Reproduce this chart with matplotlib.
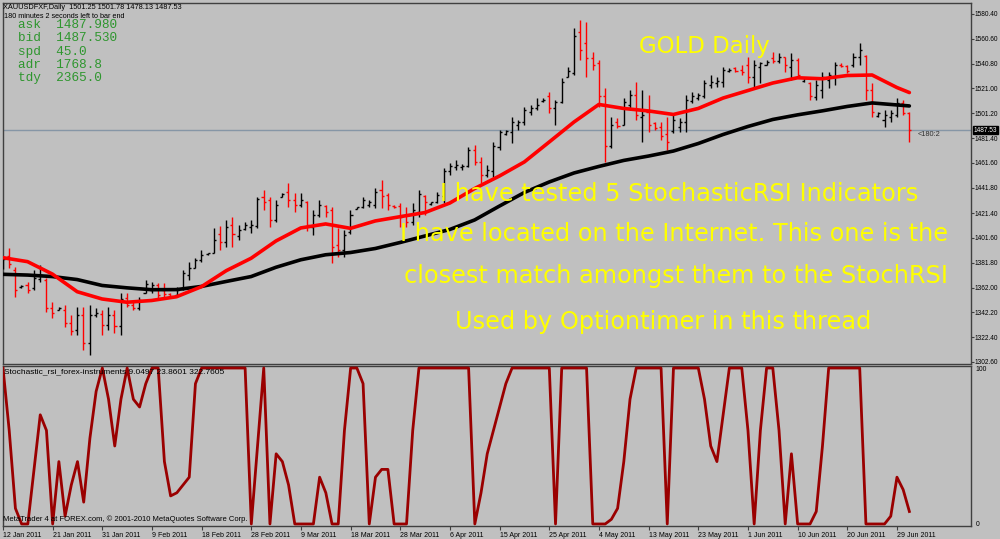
import matplotlib
matplotlib.use('Agg')
import matplotlib.pyplot as plt
import numpy as np
import pandas as pd
from matplotlib.collections import LineCollection

# ---------------- data ----------------
symbol_header = "XAUUSDFXF,Daily  1501.25 1501.78 1478.13 1487.53"
timer_text = "180 minutes 2 seconds left to bar end"
info_labels = ["ask", "bid", "spd", "adr", "tdy"]
info_values = ["1487.980", "1487.530", "45.0", "1768.8", "2365.0"]

start_date = "2011-01-12"
end_date = "2011-07-01"

opens = [1380.0, 1387.0, 1376.0, 1362.5, 1364.0, 1362.0, 1369.0, 1368.0, 1346.0, 1344.5,
         1344.0, 1334.0, 1328.0, 1340.0, 1318.0, 1340.0, 1341.0, 1332.0, 1340.0, 1331.0,
         1354.0, 1348.0, 1346.0, 1358.0, 1360.0, 1364.0, 1360.0, 1357.0, 1356.0, 1361.0,
         1372.0, 1378.0, 1384.0, 1389.0, 1390.0, 1405.0, 1398.0, 1412.0, 1403.0, 1409.0,
         1410.0, 1411.0, 1434.0, 1432.0, 1416.0, 1434.5, 1438.0, 1432.0, 1428.0, 1430.0,
         1410.0, 1420.0, 1427.0, 1424.0, 1396.0, 1392.0, 1406.0, 1425.0, 1426.0, 1428.0,
         1428.0, 1440.0, 1436.0, 1427.0, 1427.0, 1420.0, 1414.0, 1422.0, 1435.0, 1429.0,
         1430.0, 1435.0, 1455.0, 1458.0, 1458.0, 1459.0, 1472.0, 1462.0, 1452.0, 1455.0,
         1474.0, 1485.0, 1486.0, 1492.0, 1494.0, 1502.0, 1505.0, 1510.8, 1515.0, 1505.0,
         1510.0, 1530.0, 1533.0, 1566.0, 1557.0, 1545.0, 1541.0, 1515.0, 1475.0, 1494.0,
         1492.0, 1508.0, 1516.0, 1498.0, 1502.0, 1493.0, 1490.0, 1485.0, 1487.0, 1490.0,
         1494.0, 1511.0, 1513.0, 1515.0, 1524.0, 1525.0, 1526.0, 1535.0, 1537.0, 1536.0,
         1540.0, 1530.0, 1538.0, 1540.0, 1545.0, 1543.0, 1546.0, 1538.0, 1544.0, 1527.0,
         1525.0, 1514.0, 1520.0, 1528.0, 1530.0, 1540.0, 1539.0, 1540.0, 1546.0, 1547.0,
         1520.0, 1499.0, 1496.0, 1498.0, 1500.0, 1509.0, 1501.25]
highs = [1386.4, 1393.6, 1378.4, 1364.0, 1366.5, 1376.0, 1380.0, 1369.7, 1350.5, 1346.5,
         1348.0, 1340.0, 1346.5, 1346.5, 1348.0, 1345.7, 1344.0, 1346.5, 1344.0, 1358.0,
         1358.0, 1350.5, 1354.5, 1368.0, 1366.5, 1365.7, 1365.7, 1357.7, 1362.5, 1376.0,
         1382.4, 1385.6, 1392.0, 1390.0, 1409.6, 1411.0, 1416.0, 1418.4, 1412.0, 1414.4,
         1416.0, 1434.3, 1440.0, 1434.3, 1432.0, 1437.5, 1445.5, 1437.5, 1437.5, 1431.0,
         1423.9, 1432.0, 1428.0, 1426.4, 1409.6, 1408.0, 1423.9, 1426.4, 1434.6, 1431.9,
         1441.5, 1447.9, 1437.5, 1428.0, 1429.5, 1426.4, 1429.5, 1440.0, 1436.0, 1430.5,
         1438.6, 1457.5, 1461.4, 1463.8, 1460.6, 1474.5, 1475.8, 1466.5, 1459.8, 1478.5,
         1487.8, 1487.8, 1498.4, 1495.8, 1506.4, 1507.8, 1513.0, 1513.0, 1518.0, 1512.0,
         1529.3, 1538.0, 1569.2, 1575.6, 1574.3, 1550.3, 1543.7, 1521.1, 1498.4, 1497.1,
         1513.1, 1519.7, 1526.4, 1519.7, 1515.7, 1494.4, 1494.4, 1498.4, 1501.1, 1497.1,
         1515.7, 1518.4, 1517.1, 1527.7, 1531.7, 1530.4, 1538.3, 1537.1, 1538.3, 1539.7,
         1546.3, 1543.7, 1542.3, 1543.7, 1550.3, 1549.0, 1546.3, 1549.0, 1545.0, 1530.4,
         1526.4, 1527.7, 1534.4, 1534.4, 1542.3, 1541.0, 1539.7, 1549.0, 1557.0, 1547.7,
         1525.1, 1502.4, 1503.8, 1503.8, 1513.1, 1511.7, 1501.78]
lows = [1376.8, 1377.6, 1354.5, 1362.0, 1357.7, 1360.0, 1366.5, 1342.5, 1337.7, 1344.0,
        1330.5, 1324.0, 1324.0, 1312.0, 1308.0, 1338.5, 1324.0, 1328.0, 1325.5, 1324.0,
        1346.5, 1344.0, 1344.0, 1357.7, 1357.3, 1352.0, 1354.5, 1354.5, 1354.5, 1360.0,
        1368.0, 1377.6, 1382.4, 1388.4, 1389.5, 1392.0, 1394.4, 1394.4, 1400.0, 1408.0,
        1405.6, 1409.6, 1424.0, 1410.4, 1414.4, 1434.3, 1426.4, 1422.4, 1426.4, 1407.0,
        1404.0, 1418.4, 1418.4, 1381.6, 1386.4, 1386.4, 1405.0, 1424.8, 1425.3, 1426.6,
        1425.5, 1425.5, 1423.9, 1425.5, 1410.4, 1410.4, 1412.0, 1418.4, 1420.0, 1428.0,
        1429.3, 1429.5, 1451.9, 1455.9, 1455.9, 1458.5, 1459.8, 1445.3, 1450.5, 1450.5,
        1471.8, 1483.8, 1477.2, 1487.8, 1491.8, 1499.8, 1503.8, 1510.5, 1501.5, 1492.0,
        1509.4, 1530.0, 1531.7, 1543.7, 1530.3, 1535.7, 1506.4, 1462.5, 1473.2, 1489.1,
        1491.8, 1503.8, 1495.8, 1478.5, 1486.4, 1487.8, 1479.8, 1471.8, 1485.2, 1486.4,
        1486.4, 1509.1, 1511.7, 1513.1, 1521.1, 1522.4, 1522.4, 1534.4, 1534.4, 1531.7,
        1525.1, 1521.1, 1525.1, 1539.7, 1541.0, 1541.0, 1534.4, 1527.7, 1530.4, 1526.4,
        1511.7, 1511.7, 1513.1, 1521.1, 1523.7, 1538.3, 1533.1, 1538.3, 1539.7, 1511.7,
        1498.4, 1498.4, 1490.4, 1494.4, 1498.4, 1499.8, 1478.13]
closes = [1385.0, 1380.5, 1360.0, 1363.5, 1360.0, 1370.0, 1372.0, 1346.0, 1342.0, 1345.5,
          1334.0, 1327.0, 1340.0, 1318.0, 1340.0, 1342.0, 1332.0, 1340.0, 1331.0, 1353.0,
          1348.0, 1346.0, 1352.0, 1365.0, 1364.0, 1356.0, 1357.0, 1355.5, 1360.0, 1374.0,
          1378.0, 1384.0, 1388.0, 1389.5, 1400.0, 1398.0, 1410.0, 1405.0, 1408.0, 1412.0,
          1412.0, 1433.0, 1430.0, 1416.0, 1428.0, 1437.0, 1432.0, 1428.0, 1432.0, 1412.0,
          1420.0, 1428.0, 1422.0, 1394.0, 1392.0, 1404.0, 1420.0, 1426.0, 1432.0, 1430.0,
          1438.0, 1435.0, 1428.0, 1426.0, 1418.0, 1414.0, 1424.0, 1437.0, 1430.0, 1430.0,
          1436.0, 1455.0, 1459.0, 1460.0, 1459.0, 1472.0, 1462.0, 1452.0, 1456.0, 1475.0,
          1486.0, 1487.0, 1494.0, 1494.0, 1504.0, 1505.0, 1508.0, 1512.0, 1505.0, 1510.0,
          1526.0, 1535.0, 1563.0, 1552.0, 1545.0, 1540.0, 1515.0, 1475.0, 1492.0, 1491.0,
          1510.0, 1516.0, 1500.0, 1500.0, 1492.0, 1489.0, 1483.0, 1478.0, 1496.0, 1494.0,
          1512.0, 1515.0, 1515.5, 1525.0, 1526.0, 1527.0, 1536.0, 1536.0, 1535.0, 1534.0,
          1530.0, 1540.0, 1541.0, 1542.0, 1543.0, 1546.0, 1540.0, 1544.0, 1532.0, 1529.0,
          1515.0, 1524.0, 1530.0, 1532.0, 1540.0, 1539.0, 1535.0, 1546.0, 1552.0, 1520.0,
          1502.0, 1501.0, 1500.0, 1501.0, 1509.0, 1501.2, 1487.53]

# moving averages read every 4th bar (plus last bar)
ma_bar_index = [0, 4, 8, 12, 16, 20, 24, 28, 32, 36, 40, 44, 48, 52, 56, 60, 64, 68, 72,
                76, 80, 84, 88, 92, 96, 100, 104, 108, 112, 116, 120, 124, 128, 132, 136,
                140, 144, 146]
ma_red = [1385.9, 1382.7, 1372.8, 1358.7, 1352.9, 1350.3, 1351.7, 1354.7, 1362.7, 1375.5,
          1385.4, 1399.2, 1409.6, 1412.8, 1409.3, 1415.2, 1418.6, 1421.9, 1429.5, 1441.1,
          1451.1, 1462.3, 1478.2, 1494.2, 1508.2, 1505.0, 1503.0, 1500.2, 1505.0, 1513.3,
          1519.3, 1525.3, 1529.5, 1528.7, 1531.3, 1531.7, 1521.7, 1517.7]
ma_black = [1372.6, 1372.0, 1370.8, 1368.4, 1363.7, 1361.8, 1360.3, 1360.4, 1362.9, 1366.9,
            1370.8, 1378.2, 1384.2, 1388.2, 1390.0, 1393.2, 1398.0, 1403.2, 1408.4, 1416.0,
            1427.1, 1437.9, 1446.3, 1453.5, 1458.7, 1463.5, 1467.0, 1471.0, 1477.0, 1484.2,
            1490.6, 1496.2, 1499.9, 1503.1, 1506.6, 1509.4, 1507.8, 1507.0]

stoch_rsi = [100, 60, 10, 0, 0, 35, 70, 60, 0, 40,
             5, 25, 40, 14, 55, 85, 100, 80, 50, 80,
             100, 80, 75, 90, 100, 100, 40, 18, 20, 25,
             30, 90, 100, 100, 100, 100, 100, 100, 100, 100,
             0, 50, 100, 0, 45, 40, 25, 0, 0, 0,
             0, 30, 20, 0, 0, 60, 100, 100, 90, 0,
             30, 35, 35, 0, 0, 0, 60, 100, 100, 100,
             100, 100, 100, 100, 100, 100, 0, 20, 45, 60,
             75, 90, 100, 100, 100, 100, 100, 100, 100, 0,
             100, 100, 100, 100, 100, 0, 0, 0, 3, 10,
             40, 80, 100, 100, 100, 100, 100, 0, 100, 100,
             100, 100, 100, 80, 50, 40, 70, 100, 100, 100,
             60, 0, 60, 100, 100, 60, 0, 45, 0, 0,
             0, 8, 50, 100, 100, 100, 100, 100, 100, 0,
             0, 0, 0, 5, 30, 22, 8]

price_ticks = [1580.40, 1560.60, 1540.80, 1521.00, 1501.20, 1481.40, 1461.60, 1441.80,
               1421.40, 1401.60, 1381.80, 1362.00, 1342.20, 1322.40, 1302.60]
bid_price = 1487.53

# ---------------- figure ----------------
W, H = 1000, 539
BG = '#C0C0C0'
fig = plt.figure(figsize=(W / 100, H / 100), dpi=100)
fig.patch.set_facecolor(BG)


def fx(px):
    return px / W


def fy(py):
    return 1 - py / H


ax = fig.add_axes([fx(3), fy(364), (971 - 3) / W, (364 - 3) / H])
ax2 = fig.add_axes([fx(3), fy(526), (971 - 3) / W, (526 - 366) / H])
for a in (ax, ax2):
    a.set_facecolor(BG)
    for s in a.spines.values():
        s.set_color('#404040')
        s.set_linewidth(1.0)

dates = [d for d in pd.date_range(start_date, end_date, freq='D') if d.weekday() != 5]
n = len(opens)
idx = np.arange(n)

o = np.array(opens); h = np.array(highs); l = np.array(lows); c = np.array(closes)
up = c >= o
tw = 0.33
for mask, col in ((up, 'black'), (~up, '#FF0000')):
    segs = []
    for i in idx[mask]:
        segs.append([(i, l[i]), (i, h[i])])
        segs.append([(i - tw, o[i]), (i, o[i])])
        segs.append([(i, c[i]), (i + tw, c[i])])
    ax.add_collection(LineCollection(segs, colors=col, linewidths=1.0, zorder=3))

ax.plot(ma_bar_index, ma_black, color='black', lw=2.6, zorder=4, solid_capstyle='round',
        solid_joinstyle='round')
ax.plot(ma_bar_index, ma_red, color='#FF0000', lw=2.6, zorder=5, solid_capstyle='round',
        solid_joinstyle='round')
ax.axhline(bid_price, color='#8696A6', lw=1.0, zorder=2)

xl = ((3 - 2.7) / 6.21, (971 - 2.7) / 6.21)
ax.set_xlim(*xl)
ax.set_ylim(1580.4 - 0.7983 * (364 - 14), 1580.4 + 0.7983 * (14 - 3))
ax.set_xticks([])
ax.yaxis.tick_right()
ax.set_yticks(price_ticks)
ax.set_yticklabels([f"{v:.2f}" for v in price_ticks])
ax.tick_params(axis='y', direction='out', length=2, width=0.8, color='#404040',
               labelsize=4.7, pad=0.8, labelcolor='black')
for t in ax.get_yticklabels():
    t.set_fontfamily('Liberation Sans')

# stochastic panel
ax2.plot(idx, stoch_rsi, color='#9A0000', lw=2.0, zorder=3)
ax2.set_xlim(*xl)
ax2.set_ylim(-1.3, 101.3)
ax2.yaxis.tick_right()
ax2.set_yticks([100, 0])
ax2.set_yticklabels(['100', '0'])
ax2.tick_params(axis='y', length=0, labelsize=4.9, pad=3.5)
tick_pos = idx[::8]
ax2.set_xticks(tick_pos)
ax2.set_xticklabels([f"{dates[i].day} {dates[i].strftime('%b %Y')}" for i in tick_pos])
ax2.tick_params(axis='x', direction='out', length=3, width=0.8, color='#404040',
                labelsize=5.0, pad=1.5)
for t in ax2.get_xticklabels() + ax2.get_yticklabels():
    t.set_fontfamily('Liberation Sans')
for t in ax2.get_xticklabels():
    t.set_ha('left')

# texts
fig.text(fx(3), fy(7.5), symbol_header, fontsize=5.3, family='Liberation Sans', va='center')
fig.text(fx(4), fy(16), timer_text, fontsize=5.2, family='Liberation Sans', va='center')
for k, (lab, val) in enumerate(zip(info_labels, info_values)):
    fig.text(fx(18), fy(25 + 13.3 * k), f"{lab}  {val}", fontsize=9.2,
             family='Liberation Mono', color='#2E962E', va='center')

yl = '#FFFF00'
fig.text(fx(704), fy(47), "GOLD Daily", fontsize=16.5, color=yl, ha='center', va='center')
fig.text(fx(440), fy(194), "I have tested 5 StochasticRSI Indicators", fontsize=17.3, color=yl, va='center')
fig.text(fx(400), fy(234), "I have located on the Internet. This one is the", fontsize=17.3, color=yl, va='center')
fig.text(fx(404), fy(276), "closest match amongst them to the StochRSI", fontsize=17.3, color=yl, va='center')
fig.text(fx(455), fy(322), "Used by Optiontimer in this thread", fontsize=17.3, color=yl, va='center')

fig.text(fx(918), fy(135), "<180:2", fontsize=5.3, family='Liberation Sans', color='#303030', va='center')
fig.text(fx(973.5), fy(130), "1487.53", fontsize=4.7, family='Liberation Sans', color='white',
         va='center', bbox=dict(boxstyle='square,pad=0.12', fc='black', ec='black'))
fig.text(fx(4), fy(372), "Stochastic_rsi_forex-instruments 9.0497 23.8601 322.7605",
         fontsize=6.0, family='Liberation Sans', va='center')
fig.text(fx(3), fy(519), "MetaTrader 4 at FOREX.com, \u00a9 2001-2010 MetaQuotes Software Corp.",
         fontsize=5.5, family='Liberation Sans', va='center')

fig.savefig('out.png', dpi=100, facecolor=BG)
